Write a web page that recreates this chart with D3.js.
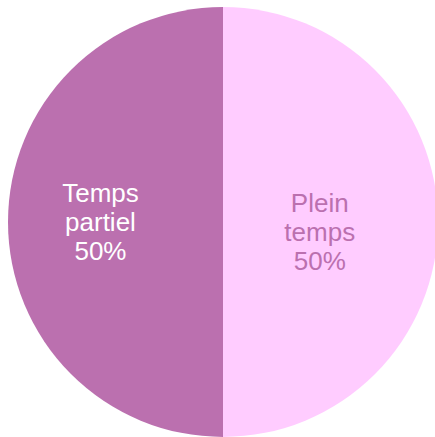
<!DOCTYPE html>
<html>
<head>
<meta charset="utf-8">
<script src="https://cdn.jsdelivr.net/npm/d3@7"></script>
<style>
html,body{margin:0;padding:0;background:#fff;}
svg{display:block;}
</style>
</head>
<body>
<svg id="chart" width="435" height="437"></svg>
<script>
const categories = ["Plein temps", "Temps partiel"];
const values = [50, 50];
const percentLabels = ["50%", "50%"];
const labelLines = [["Plein", "temps"], ["Temps", "partiel"]];

const colors = ["#FFCCFF", "#BB70AF"];
const textColors = ["#BB70AF", "#FFFFFF"];

const W = 435, H = 437;
const cx = 223, cy = 222, R = 215;
// label placement: [radius fraction, dx, dy] per slice
const labelLayout = [[0.45, 0, 10], [0.57, 0, 0]];

const svg = d3.select("#chart");
const g = svg.append("g").attr("transform", `translate(${cx},${cy})`);

const pie = d3.pie().sort(null).value(d => d)(values);
const arc = d3.arc().innerRadius(0).outerRadius(R);

g.selectAll("path.slice").data(pie).join("path")
  .attr("class", "slice")
  .attr("d", arc)
  .attr("fill", (d, i) => colors[i]);

const fontSize = 26, lineH = 29.2;
pie.forEach((d, i) => {
  const [rf, dx, dy] = labelLayout[i];
  const la = d3.arc().innerRadius(R * rf).outerRadius(R * rf);
  const [x, y] = la.centroid(d);
  const lines = labelLines[i].concat([percentLabels[i]]);
  const t = g.append("text")
    .attr("text-anchor", "middle")
    .attr("font-family", "'Liberation Sans', Arial, sans-serif")
    .attr("font-size", fontSize)
    .attr("fill", textColors[i]);
  const startY = y + dy - (lines.length - 1) * lineH / 2 + 8.9;
  lines.forEach((ln, k) => {
    t.append("tspan").attr("x", x + dx).attr("y", startY + k * lineH).text(ln);
  });
});
</script>
</body>
</html>
